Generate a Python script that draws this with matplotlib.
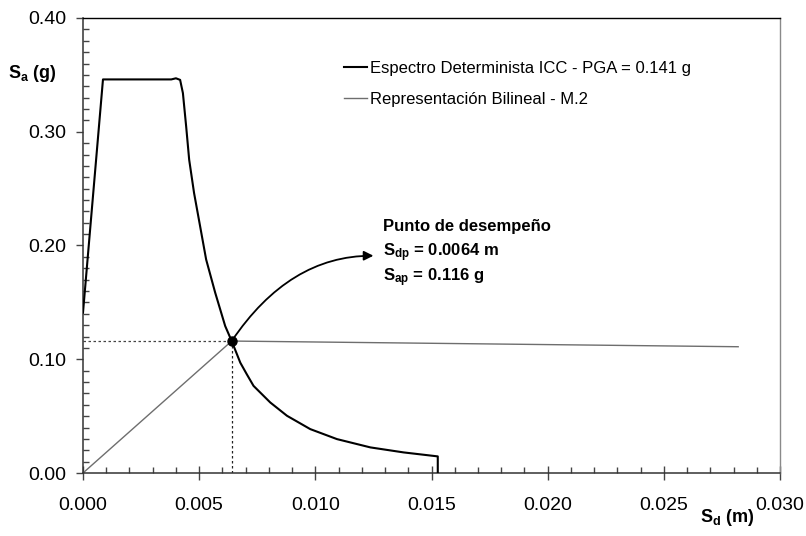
import matplotlib
matplotlib.use("Agg")
import matplotlib.pyplot as plt
from matplotlib.patches import FancyArrowPatch
from matplotlib.ticker import MultipleLocator

plt.rcParams["font.family"] = ["Liberation Sans", "DejaVu Sans"]
plt.rcParams["mathtext.fontset"] = "custom"
plt.rcParams["mathtext.rm"] = "Liberation Sans"
plt.rcParams["mathtext.bf"] = "Liberation Sans:bold"

# espectro determinista ICC (Sd en m, Sa en g)
spec_sd = [0.0, 0.00086, 0.0038, 0.0040, 0.00418, 0.00430, 0.00444,
           0.00457, 0.00478, 0.00504, 0.00530, 0.00569, 0.00612, 0.0064,
           0.00677, 0.00705, 0.00734, 0.0077, 0.00806, 0.00878, 0.00978,
           0.01093, 0.01237, 0.0138, 0.01527, 0.01527]
spec_sa = [0.141, 0.346, 0.346, 0.347, 0.3456, 0.334, 0.3047,
           0.2754, 0.2462, 0.2170, 0.1877, 0.1585, 0.1292, 0.116,
           0.097, 0.0868, 0.0766, 0.0693, 0.062, 0.0503, 0.0386,
           0.0298, 0.0225, 0.0181, 0.0146, 0.0]

# representacion bilineal M.2
bil_sd = [0.0, 0.0064, 0.0282]
bil_sa = [0.0, 0.116, 0.111]

# punto de desempeno
perf_sd = 0.0064
perf_sa = 0.116
arrow_end = (0.0125, 0.191)

spec_label = "Espectro Determinista ICC - PGA = 0.141 g"
bil_label = "Representación Bilineal - M.2"

fig = plt.figure(figsize=(8.06, 5.36), dpi=100)
ax = fig.add_axes([83 / 806, 1 - 473 / 536, 697 / 806, 455 / 536])

ax.plot(spec_sd, spec_sa, color="black", lw=1.5, label=spec_label, zorder=3)
ax.plot(bil_sd, bil_sa, color="#6e6e6e", lw=1.0, label=bil_label, zorder=2)

ax.plot([0, perf_sd], [perf_sa, perf_sa], color="#444444", lw=0.9,
        ls=(0, (2, 2)), zorder=1)
ax.plot([perf_sd, perf_sd], [0, perf_sa], color="#222222", lw=0.9,
        ls=(0, (2, 2)), zorder=1)
ax.plot([perf_sd], [perf_sa], "o", color="black", ms=6.5, zorder=5)

arrow = FancyArrowPatch((perf_sd, perf_sa), arrow_end,
                        connectionstyle="angle3,angleA=56,angleB=0",
                        arrowstyle="-|>", mutation_scale=14, lw=1.3,
                        color="black", shrinkA=0, shrinkB=0, zorder=4)
ax.add_patch(arrow)

ax.text(0.01293, 0.2167, "Punto de desempeño", fontsize=12,
        fontweight="bold", va="center", ha="left")
ax.text(0.01293, 0.1937, r"$\mathbf{S_{dp}}$ = 0.0064 m", fontsize=12,
        fontweight="bold", va="center", ha="left")
ax.text(0.01293, 0.1718, r"$\mathbf{S_{ap}}$ = 0.116 g", fontsize=12,
        fontweight="bold", va="center", ha="left")

ax.set_xlim(0, 0.030)
ax.set_ylim(0, 0.40)
ax.xaxis.set_major_locator(MultipleLocator(0.005))
ax.xaxis.set_minor_locator(MultipleLocator(0.001))
ax.yaxis.set_major_locator(MultipleLocator(0.10))
ax.yaxis.set_minor_locator(MultipleLocator(0.01))
ax.xaxis.set_major_formatter(lambda v, p: f"{v:.3f}")
ax.yaxis.set_major_formatter(lambda v, p: f"{v:.2f}")

ax.tick_params(axis="x", which="major", direction="inout", length=10,
               width=1, color="#444444", labelsize=14, pad=12)
ax.tick_params(axis="y", which="major", direction="out", length=5,
               width=1, color="#444444", labelsize=14, pad=7)
ax.tick_params(which="minor", direction="in", length=4.5, width=1,
               color="#444444")

for side in ("left", "bottom"):
    ax.spines[side].set_color("#333333")
    ax.spines[side].set_linewidth(1.1)
ax.spines["top"].set_color("black")
ax.spines["top"].set_linewidth(1.0)
ax.spines["right"].set_color("#8a8a8a")
ax.spines["right"].set_linewidth(1.0)

ax.legend(loc="upper left", bbox_to_anchor=(0.3745, 0.905), frameon=False,
          fontsize=12, handlelength=1.35, handletextpad=0.2,
          labelspacing=0.95, borderpad=0, borderaxespad=0)

fig.text(8 / 806, 1 - 73 / 536, r"$\mathbf{S_a}$ (g)", fontsize=13,
         fontweight="bold", va="center", ha="left")
fig.text(700 / 806, 1 - 517 / 536, r"$\mathbf{S_d}$ (m)", fontsize=13,
         fontweight="bold", va="center", ha="left")

fig.savefig("out.png", dpi=100)
